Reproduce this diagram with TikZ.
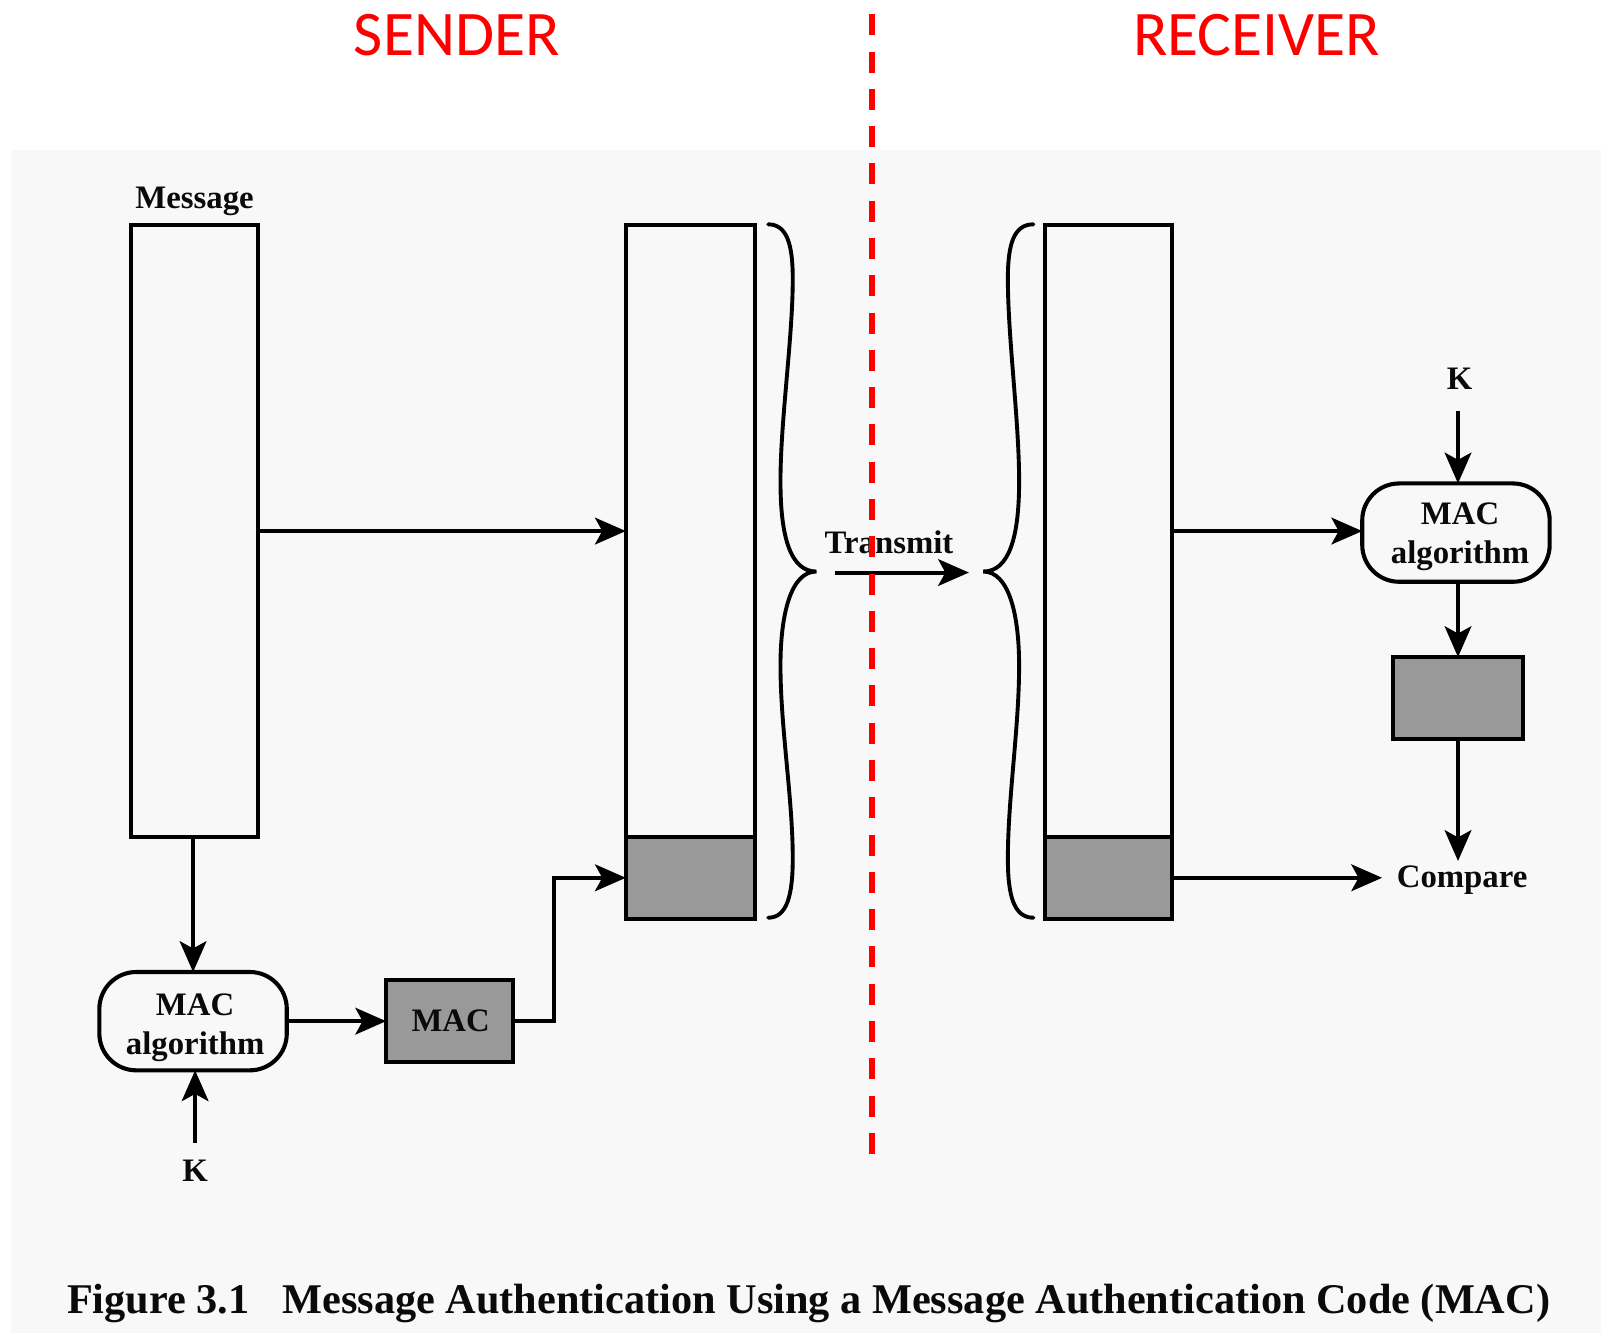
\documentclass[tikz,border=0pt]{standalone}
\usepackage{fontspec}
\setmainfont{Liberation Serif}
\newfontfamily\calib{Carlito}
\usetikzlibrary{arrows.meta}
\definecolor{pagebg}{HTML}{F8F8F8}
\definecolor{macgray}{HTML}{999999}
\definecolor{ink}{HTML}{0A0A0A}
\tikzset{
  box/.style={draw=black,line width=2pt,minimum width=#1,inner sep=0pt,outer sep=0pt},
  block/.style={box=62pt,minimum height=298.5pt},
  algbox/.style={draw=black,line width=2pt,rounded corners=18pt,minimum width=91.5pt,minimum height=48pt,inner sep=0pt,outer sep=0pt,align=center,font=\fontsize{16}{19}\selectfont\bfseries,text=ink},
  macbox/.style={draw=black,line width=2pt,fill=macgray,minimum width=62pt,minimum height=40pt,inner sep=0pt,outer sep=0pt,font=\fontsize{16}{19}\selectfont\bfseries,text=ink},
  lbl/.style={font=\fontsize{16}{19}\selectfont\bfseries,text=ink,inner sep=0pt},
  conn/.style={line width=2pt,-{Stealth[length=15pt,width=13pt,inset=3.5pt]}},
  brace/.style={line width=1.9pt,line cap=round},
  side/.style={font=\calib\fontsize{31}{35}\selectfont,text=red,inner sep=0pt},
  divider/.style={draw=red,line width=2.6pt,dash pattern=on 10.25pt off 7.95pt}
}
\begin{document}
\begin{tikzpicture}[x=0.5pt,y=-0.5pt]
\useasboundingbox (0,0) rectangle (1568,1301.5);
\fill[white] (0,0) rectangle (1568,1301.5);
\fill[pagebg] (11,146) rectangle (1563,1301.5);

\node[side] (sender) at (446,34) {SENDER};
\node[side] (receiver) at (1227,34) {RECEIVER};

\node[lbl] (msglabel) at (190,197) {Message};
\node[block] (msg) at (189.5,518.5) {};
\node[block,minimum width=63pt] (tx) at (674,518.5) {};
\node[macbox,minimum width=63pt] (txmac) at (674,857) {};
\node[block] (rx) at (1082,518.5) {};
\node[macbox] (rxmac) at (1082,857) {};

\node[algbox] (malg) at (188.5,997) {\hspace*{2pt}\rule{0pt}{17pt}MAC\\\hspace*{2pt}algorithm};
\node[macbox] (mac) at (439,997) {\hspace*{1pt}MAC};
\node[lbl,inner ysep=8pt] (k1) at (190.5,1143) {K};

\node[lbl,inner ysep=10pt] (k2) at (1425,370) {K};
\node[algbox] (ralg) at (1421.5,520) {\hspace*{4pt}\rule{0pt}{15pt}MAC\\\hspace*{4pt}algorithm};
\node[macbox,minimum width=63.5pt] (rbox) at (1423.5,681.5) {};
\node[lbl,inner xsep=7pt,minimum height=15pt,text height=10.5pt,text depth=0pt] (cmp) at (1427.5,856) {Compare};

\node[lbl] (tlabel) at (868,529) {Transmit};
\coordinate (tstart) at (815,559);
\coordinate (tend) at (946,559);

\draw[conn] (msg.east) -- (tx.west);
\draw[conn] (msg.south -| malg.north) -- (malg.north);
\draw[conn] (malg.east) -- (mac.west);
\draw[conn] (k1.north) -- (k1.north |- malg.south);
\draw[conn] (mac.east) -- (541,997) -- (541,857) -- (txmac.west);
\draw[conn] (tstart) -- (tend);
\draw[conn] (rx.east) -- (rx.east -| ralg.west);
\draw[conn] (k2.south -| rbox.north) -- (rbox.north |- ralg.north);
\draw[conn] (rbox.north |- ralg.south) -- (rbox.north);
\draw[conn] (rbox.south) -- (rbox.south |- cmp.north);
\draw[conn] (rxmac.east) -- (rxmac.east -| cmp.west);

% sender brace
\draw[brace] (750,219) .. controls (768,219) and (774,238) .. (774,272)
  .. controls (774,330) and (762,410) .. (762,470)
  .. controls (762,525) and (772,558) .. (797,558)
  .. controls (772,558) and (762,600) .. (762,650)
  .. controls (762,710) and (774,780) .. (774,838)
  .. controls (774,875) and (768,896) .. (750,896);
% receiver brace
\draw[brace] (1009,219) .. controls (990,219) and (984,238) .. (984,272)
  .. controls (984,330) and (995,410) .. (995,470)
  .. controls (995,525) and (985,558) .. (960,558)
  .. controls (985,558) and (995,600) .. (995,650)
  .. controls (995,710) and (984,780) .. (984,838)
  .. controls (984,875) and (990,896) .. (1009,896);

\node[inner sep=0pt,font=\fontsize{20.65}{24}\selectfont\bfseries,text=ink] (caption) at (789.5,1273) {Figure 3.1\hspace{16pt}Message Authentication Using a Message Authentication Code (MAC)};

\coordinate (dtop) at (851.5,14);
\coordinate (dbot) at (851.5,1127);
\draw[divider] (dtop) -- (dbot);
\end{tikzpicture}
\end{document}
